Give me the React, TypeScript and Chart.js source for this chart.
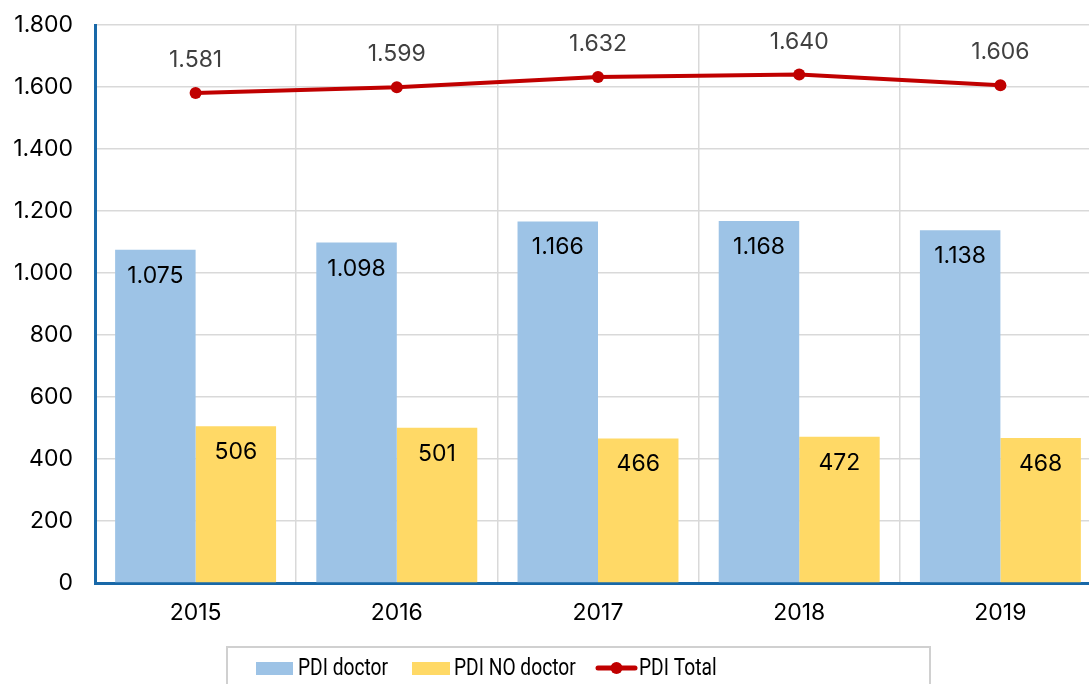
import React, { useEffect, useRef } from "react";
import { Chart, registerables } from "chart.js";

Chart.register(...registerables);

const categories = ["2015", "2016", "2017", "2018", "2019"];
const pdiDoctor = [1075, 1098, 1166, 1168, 1138];
const pdiNoDoctor = [506, 501, 466, 472, 468];
const pdiTotal = [1581, 1599, 1632, 1640, 1606];
const seriesLabels = ["PDI doctor", "PDI NO doctor", "PDI Total"];

const FONT = "Inter, 'Noto Sans', sans-serif";
const LEGEND_FONT = "Roboto, 'DejaVu Sans', sans-serif";

const fmt = (v: number) => {
  const s = Math.round(v).toString();
  return s.replace(/\B(?=(\d{3})+(?!\d))/g, ".");
};

const labelPlugin = {
  id: "valueLabels",
  afterDatasetsDraw(chart: any) {
    const ctx = chart.ctx;
    ctx.save();
    ctx.textAlign = "center";
    ctx.textBaseline = "middle";
    chart.data.datasets.forEach((ds: any, i: number) => {
      const meta = chart.getDatasetMeta(i);
      meta.data.forEach((el: any, j: number) => {
        const v = ds.data[j];
        ctx.font = `23px ${FONT}`;
        if (ds.type === "line") {
          ctx.fillStyle = "#404040";
          ctx.fillText(fmt(v), el.x, el.y - 33);
        } else {
          ctx.fillStyle = "#000000";
          ctx.fillText(fmt(v), el.x, el.y + 26);
        }
      });
    });
    ctx.restore();
  },
};

const drawCondensed = (ctx: any, text: string, x: number, y: number) => {
  ctx.save();
  ctx.translate(x, y);
  ctx.scale(0.8, 1);
  ctx.fillText(text, 0, 0);
  ctx.restore();
};

const legendPlugin = {
  id: "boxLegend",
  afterDraw(chart: any) {
    const ctx = chart.ctx;
    const ds = chart.data.datasets;
    const doc = ds.find((d: any) => d.label === seriesLabels[0]);
    const nodoc = ds.find((d: any) => d.label === seriesLabels[1]);
    const tot = ds.find((d: any) => d.label === seriesLabels[2]);
    ctx.save();
    ctx.strokeStyle = "#d0d0d0";
    ctx.lineWidth = 2;
    ctx.strokeRect(227, 647, 703, 60);
    const cy = 669;
    ctx.font = `24px ${LEGEND_FONT}`;
    ctx.textBaseline = "middle";
    ctx.textAlign = "left";
    ctx.fillStyle = doc.backgroundColor;
    ctx.fillRect(256, 662, 37, 13);
    ctx.fillStyle = "#000";
    drawCondensed(ctx, doc.label, 298, cy);
    ctx.fillStyle = nodoc.backgroundColor;
    ctx.fillRect(412, 662, 38, 13);
    ctx.fillStyle = "#000";
    drawCondensed(ctx, nodoc.label, 454, cy);
    ctx.strokeStyle = tot.borderColor;
    ctx.lineWidth = 5;
    ctx.lineCap = "round";
    ctx.beginPath();
    ctx.moveTo(598, cy - 1);
    ctx.lineTo(635, cy - 1);
    ctx.stroke();
    ctx.fillStyle = tot.borderColor;
    ctx.beginPath();
    ctx.arc(616.5, cy - 1, 6, 0, Math.PI * 2);
    ctx.fill();
    ctx.fillStyle = "#000";
    drawCondensed(ctx, tot.label, 639, cy);
    ctx.restore();
  },
};

export default function App() {
  const ref = useRef<HTMLCanvasElement | null>(null);
  useEffect(() => {
    document.body.style.margin = "0";
    document.body.style.overflow = "hidden";
    const chart = new Chart(ref.current as HTMLCanvasElement, {
      type: "bar",
      data: {
        labels: categories,
        datasets: [
          {
            type: "line",
            label: seriesLabels[2],
            data: pdiTotal,
            borderColor: "#C00000",
            backgroundColor: "#C00000",
            borderWidth: 4,
            pointRadius: 6,
            pointBackgroundColor: "#C00000",
            pointBorderWidth: 0,
            tension: 0,
            order: 0,
          } as any,
          {
            type: "bar",
            label: seriesLabels[0],
            data: pdiDoctor,
            backgroundColor: "#9DC3E6",
            categoryPercentage: 0.8,
            barPercentage: 1.0,
            order: 1,
          },
          {
            type: "bar",
            label: seriesLabels[1],
            data: pdiNoDoctor,
            backgroundColor: "#FFD966",
            categoryPercentage: 0.8,
            barPercentage: 1.0,
            order: 1,
          },
        ],
      },
      options: {
        animation: false,
        responsive: false,
        layout: { padding: { top: 25, right: 0, left: 0, bottom: 0 } },
        plugins: {
          legend: { display: false },
          tooltip: { enabled: false },
        },
        scales: {
          x: {
            offset: true,
            grid: { display: true, offset: true, color: "#d9d9d9", lineWidth: 1.5, drawTicks: false },
            border: { display: true, color: "#1868A8", width: 3 },
            ticks: { color: "#000", font: { family: FONT, size: 23 }, padding: 16 },
            afterFit: (s: any) => {
              s.height = 101;
              s.paddingLeft = 0;
              s.paddingRight = 0;
            },
          },
          y: {
            min: 0,
            max: 1800,
            ticks: {
              stepSize: 200,
              color: "#000",
              font: { family: FONT, size: 23 },
              padding: 22,
              callback: (v: any) => fmt(Number(v)),
            },
            grid: { color: "#d9d9d9", lineWidth: 1.5, drawTicks: false },
            border: { display: true, color: "#1868A8", width: 3 },
            afterFit: (s: any) => {
              s.width = 95;
              s.paddingTop = 0;
              s.paddingBottom = 0;
            },
          },
        },
      },
      plugins: [labelPlugin, legendPlugin],
    });
    return () => chart.destroy();
  }, []);
  return <canvas ref={ref} width={1107} height={684} style={{ display: "block" }} />;
}
